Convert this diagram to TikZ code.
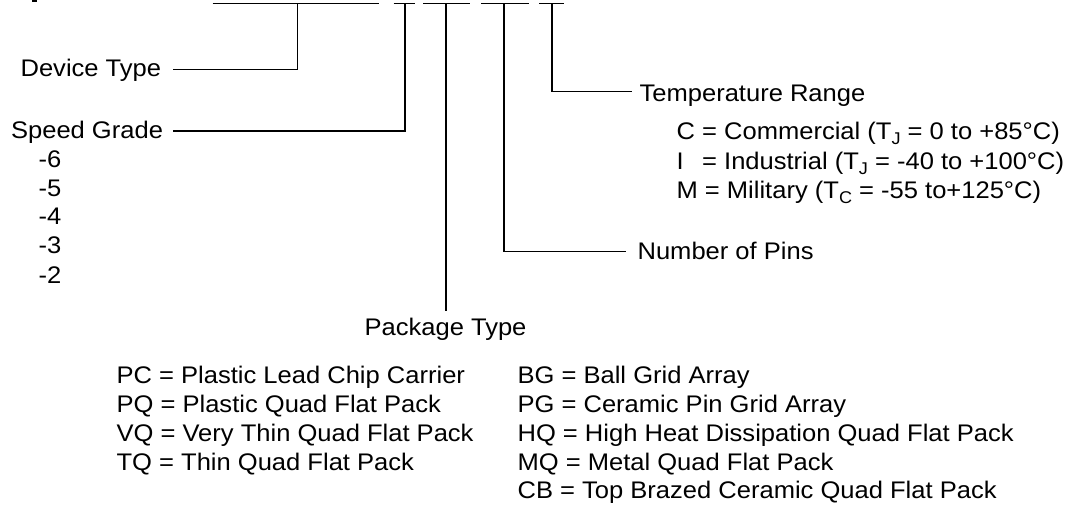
\documentclass[tikz,border=0pt]{standalone}
\usepackage{fontspec}
\setmainfont{Liberation Sans}[FakeStretch=1.064]
\newcommand\mysub[1]{\raisebox{-4.5pt}{\fontsize{17}{17}\selectfont #1}}
\begin{document}
\begin{tikzpicture}[x=1pt,y=-1pt,line width=1.2pt,
  lbl/.style={anchor=base west,inner sep=0pt,font=\fontsize{24}{29}\selectfont}]
\useasboundingbox (0,0) rectangle (1080,508);
% cropped glyph fragment at top left
\fill (32,0) rectangle (37,2);
% top segments
\coordinate (s1a) at (212.7,3.5); \coordinate (s1b) at (379.3,3.5);
\coordinate (s2a) at (393.5,3.5); \coordinate (s2b) at (414.5,3.5);
\coordinate (s3a) at (423,3.5);   \coordinate (s3b) at (469.5,3.5);
\coordinate (s4a) at (481,3.5);   \coordinate (s4b) at (528.5,3.5);
\coordinate (s5a) at (539,3.5);   \coordinate (s5b) at (563.5,3.5);
\draw (s1a) -- (s1b);
\draw (s2a) -- (s2b);
\draw (s3a) -- (s3b);
\draw (s4a) -- (s4b);
\draw (s5a) -- (s5b);
% connectors
\coordinate (dvTop) at (297.5,3.5); \coordinate (dvEnd) at (173,69.5);
\coordinate (spTop) at (405,3.5);   \coordinate (spEnd) at (173,131);
\coordinate (pkTop) at (446,3.5);   \coordinate (pkEnd) at (446,310.7);
\coordinate (pnTop) at (504,3.5);   \coordinate (pnEnd) at (626,251.7);
\coordinate (tpTop) at (552,3.5);   \coordinate (tpEnd) at (631.7,91.5);
\draw (dvTop) |- (dvEnd);
\draw (spTop) |- (spEnd);
\draw (pkTop) -- (pkEnd);
\draw (pnTop) |- (pnEnd);
\draw (tpTop) |- (tpEnd);
% labels
\node[lbl] (dev) at (20,76.7) {Device Type};
\node[lbl] (spd) at (10.5,138.3) {Speed Grade};
\node[lbl] (g6) at (38,167.3) {-6};
\node[lbl] (g5) at (38,196.5) {-5};
\node[lbl] (g4) at (38,225) {-4};
\node[lbl] (g3) at (38,253.5) {-3};
\node[lbl] (g2) at (38,283) {-2};
\node[lbl] (tmp) at (639,101.7) {Temperature Range};
\node[lbl] (tC) at (676,140) {C = Commercial (T\mysub{J} = 0 to +85°C)};
\node[lbl] (tI) at (676,170) {\rlap{I}\hphantom{C} = Industrial (T\mysub{J} = -40 to +100°C)};
\node[lbl] (tM) at (676,199) {M = Military (T\mysub{C} = -55 to+125°C)};
\node[lbl] (pins) at (637,259.3) {Number of Pins};
\node[lbl] (pkg) at (364,335.7) {Package Type};
\node[lbl] (pc) at (116,383.3) {PC = Plastic Lead Chip Carrier};
\node[lbl] (pq) at (116,412) {PQ = Plastic Quad Flat Pack};
\node[lbl] (vq) at (116,441) {VQ = Very Thin Quad Flat Pack};
\node[lbl] (tq) at (116,470) {TQ = Thin Quad Flat Pack};
\node[lbl] (bg) at (517,383.3) {BG = Ball Grid Array};
\node[lbl] (pg) at (517,412) {PG = Ceramic Pin Grid Array};
\node[lbl] (hq) at (517,441) {HQ = High Heat Dissipation Quad Flat Pack};
\node[lbl] (mq) at (517,470) {MQ = Metal Quad Flat Pack};
\node[lbl] (cb) at (517,498.5) {CB = Top Brazed Ceramic Quad Flat Pack};
\end{tikzpicture}
\end{document}
